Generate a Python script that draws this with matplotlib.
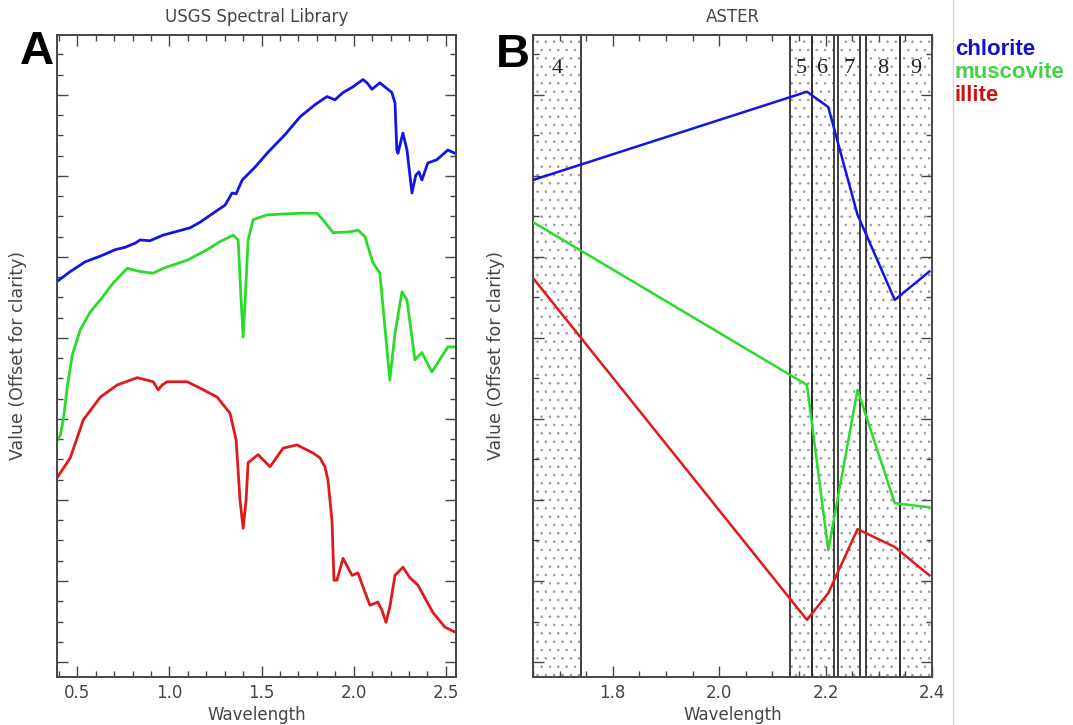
import matplotlib
matplotlib.use("Agg")
import matplotlib.pyplot as plt
from matplotlib.ticker import MultipleLocator, NullFormatter, FormatStrFormatter
from matplotlib.lines import Line2D

# ---- Panel A: USGS library spectra (offset for clarity) ----
chlorite_wl = [0.392, 0.462, 0.543, 0.625, 0.706, 0.760, 0.814, 0.841, 0.894, 0.966,
               1.031, 1.112, 1.167, 1.237, 1.302, 1.340, 1.362, 1.395, 1.465, 1.530,
               1.627, 1.709, 1.790, 1.855, 1.898, 1.942, 1.996, 2.050, 2.072, 2.099,
               2.142, 2.169, 2.207, 2.224, 2.234, 2.240, 2.267, 2.289, 2.316, 2.337,
               2.354, 2.370, 2.402, 2.451, 2.511, 2.549]
chlorite_val = [4.70, 4.82, 4.94, 5.01, 5.09, 5.12, 5.17, 5.21, 5.20, 5.27,
                5.31, 5.36, 5.43, 5.54, 5.64, 5.79, 5.78, 5.95, 6.11, 6.28,
                6.51, 6.73, 6.88, 6.98, 6.94, 7.03, 7.10, 7.19, 7.15, 7.07,
                7.15, 7.10, 7.03, 6.90, 6.32, 6.28, 6.53, 6.32, 5.79, 6.01,
                6.05, 5.95, 6.16, 6.20, 6.32, 6.28]

muscovite_wl = [0.392, 0.408, 0.424, 0.446, 0.473, 0.516, 0.570, 0.625, 0.695, 0.771,
                0.841, 0.912, 0.966, 1.096, 1.205, 1.275, 1.346, 1.373, 1.389, 1.400,
                1.411, 1.427, 1.454, 1.530, 1.709, 1.801, 1.833, 1.888, 1.980, 2.023,
                2.061, 2.104, 2.142, 2.169, 2.196, 2.224, 2.262, 2.289, 2.332, 2.370,
                2.424, 2.511, 2.554]
muscovite_val = [2.74, 2.80, 2.99, 3.40, 3.79, 4.10, 4.32, 4.47, 4.68, 4.86,
                 4.82, 4.80, 4.86, 4.96, 5.09, 5.19, 5.27, 5.21, 4.47, 4.01,
                 4.47, 5.21, 5.46, 5.52, 5.54, 5.54, 5.46, 5.30, 5.31, 5.33,
                 5.25, 4.93, 4.80, 4.14, 3.48, 4.06, 4.57, 4.47, 3.73, 3.82,
                 3.58, 3.89, 3.89]

illite_wl = [0.392, 0.462, 0.533, 0.625, 0.717, 0.825, 0.912, 0.939, 0.961, 0.988,
             1.096, 1.167, 1.259, 1.329, 1.362, 1.383, 1.400, 1.416, 1.427, 1.481,
             1.546, 1.617, 1.692, 1.779, 1.817, 1.844, 1.860, 1.882, 1.893, 1.909,
             1.942, 1.991, 2.023, 2.050, 2.088, 2.131, 2.153, 2.175, 2.196, 2.224,
             2.267, 2.305, 2.348, 2.430, 2.495, 2.549]
illite_val = [2.28, 2.52, 2.99, 3.27, 3.42, 3.51, 3.46, 3.36, 3.42, 3.46,
              3.46, 3.38, 3.27, 3.07, 2.74, 2.00, 1.65, 2.00, 2.46, 2.56,
              2.41, 2.64, 2.68, 2.58, 2.52, 2.41, 2.25, 1.75, 1.01, 1.01,
              1.28, 1.07, 1.10, 0.93, 0.70, 0.74, 0.64, 0.49, 0.68, 1.07,
              1.17, 1.04, 0.95, 0.61, 0.43, 0.37]

# ---- Panel B: resampled to ASTER SWIR bands ----
aster_wl = [1.650, 2.165, 2.205, 2.260, 2.330, 2.395]
aster_chlorite = [5.95, 7.04, 6.85, 5.52, 4.47, 4.82]
aster_muscovite = [5.43, 3.42, 1.38, 3.36, 1.96, 1.91]
aster_illite = [4.74, 0.52, 0.85, 1.64, 1.42, 1.07]

band_names = ["4", "5", "6", "7", "8", "9"]
band_lo = [1.600, 2.134, 2.175, 2.224, 2.275, 2.340]
band_hi = [1.740, 2.175, 2.215, 2.265, 2.340, 2.430]

minerals = ["chlorite", "muscovite", "illite"]
line_colors = ["#1414e6", "#28dc28", "#e01a1a"]
text_colors = ["#1212c8", "#46d246", "#c81414"]

plt.rcParams["hatch.linewidth"] = 0.6
plt.rcParams["font.family"] = "DejaVu Sans"

fig = plt.figure(figsize=(10.73, 7.25), dpi=100)
fig.patch.set_facecolor("white")

ax_a = fig.add_axes([57 / 1073, 48 / 725, 399 / 1073, 642 / 725])
ax_b = fig.add_axes([533 / 1073, 48 / 725, 399 / 1073, 642 / 725])

tick_grey = "#454545"


def style_axes(ax, xmajor, xminor, ymajor, yminor):
    ax.xaxis.set_major_locator(MultipleLocator(xmajor))
    ax.xaxis.set_minor_locator(MultipleLocator(xminor))
    ax.yaxis.set_major_locator(MultipleLocator(ymajor))
    ax.yaxis.set_minor_locator(MultipleLocator(yminor))
    ax.yaxis.set_major_formatter(NullFormatter())
    ax.xaxis.set_major_formatter(FormatStrFormatter("%.1f"))
    ax.tick_params(which="both", direction="in", top=True, right=True,
                   colors=tick_grey, labelsize=12, width=1.0, pad=5)
    ax.tick_params(which="major", length=8)
    ax.tick_params(which="minor", length=4)
    for sp in ax.spines.values():
        sp.set_color(tick_grey)
        sp.set_linewidth(1.4)
    ax.set_xlabel("Wavelength", fontsize=12, color=tick_grey, labelpad=3)
    ax.set_ylabel("Value (Offset for clarity)", fontsize=12.5, color=tick_grey)


# panel A
for wl, val, col in zip([chlorite_wl, muscovite_wl, illite_wl],
                        [chlorite_val, muscovite_val, illite_val], line_colors):
    ax_a.plot(wl, val, color=col, lw=2.0, solid_joinstyle="round")
ax_a.set_xlim(0.39, 2.555)
ax_a.set_ylim(-0.185, 7.74)
style_axes(ax_a, 0.5, 0.1, 1.0, 0.25)
ax_a.set_title("USGS Spectral Library", fontsize=12, color=tick_grey, pad=9)
ax_a.yaxis.set_label_coords(-0.075, 0.5)

# panel B: band rectangles
for name, lo, hi in zip(band_names, band_lo, band_hi):
    ax_b.axvspan(lo, hi, facecolor="none", edgecolor="#9a9a9a", hatch="..",
                 lw=0, zorder=1)
    ax_b.axvline(lo, color="#303030", lw=1.3, zorder=2)
    ax_b.axvline(hi, color="#303030", lw=1.3, zorder=2)
for name, lo, hi in zip(band_names, band_lo, band_hi):
    cx = (max(lo, 1.65) + min(hi, 2.40)) / 2
    ax_b.text(cx, 7.33, name, ha="center", va="center", fontsize=16,
              family="Liberation Serif", color="#202020", zorder=3)

for val, col in zip([aster_chlorite, aster_muscovite, aster_illite], line_colors):
    ax_b.plot(aster_wl, val, color=col, lw=1.8, zorder=4)
ax_b.set_xlim(1.65, 2.40)
ax_b.set_ylim(-0.185, 7.74)
style_axes(ax_b, 0.2, 0.05, 1.0, 0.5)
ax_b.set_title("ASTER", fontsize=12, color=tick_grey, pad=9)
ax_b.yaxis.set_label_coords(-0.07, 0.5)

# panel letters
fig.text(20 / 1073, 1 - 30 / 725, "A", fontsize=34, fontweight="bold",
         family="Liberation Sans", ha="left", va="top")
fig.text(496 / 1073, 1 - 33 / 725, "B", fontsize=34, fontweight="bold",
         family="Liberation Sans", ha="left", va="top")

# colour key
for i, (name, col) in enumerate(zip(minerals, text_colors)):
    fig.text(955 / 1073, 1 - (55 + 23 * i) / 725, name, color=col, fontsize=16,
             fontweight="bold", family="Liberation Sans", ha="left",
             va="baseline")

fig.add_artist(Line2D([953 / 1073, 953 / 1073], [0, 1], color="#d8d8d8",
                      lw=1.0, transform=fig.transFigure))

fig.savefig("out.png", dpi=100)
